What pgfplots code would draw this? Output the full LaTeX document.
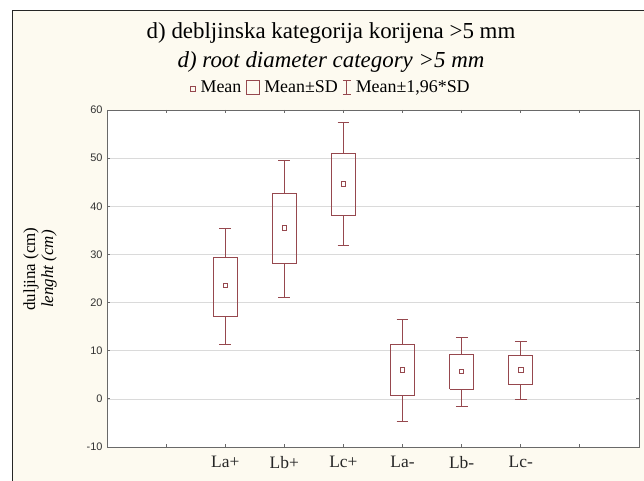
\documentclass[border=0pt]{standalone}
\usepackage{pgfplots}
\pgfplotsset{compat=1.18}
\usepackage{fontspec}
\setmainfont{Liberation Serif}
\newfontfamily\sansnum{Liberation Sans}
\definecolor{boxc}{RGB}{150,72,78}
\definecolor{bgc}{RGB}{253,250,240}
\definecolor{axc}{RGB}{105,105,105}
\definecolor{gridc}{RGB}{218,218,218}
\begin{document}
\begin{tikzpicture}
\useasboundingbox (0,0) rectangle (644bp,481bp);
\clip (0,0) rectangle (644bp,481bp);
\fill[white] (0,0) rectangle (644bp,481bp);
\draw[fill=bgc, draw=black!85, line width=1bp] (12bp,-10bp) rectangle (660bp,470bp);
\begin{axis}[
  at={(107bp,34bp)}, anchor=south west,
  scale only axis, width=532bp, height=337bp,
  xmin=0, xmax=9, ymin=-10, ymax=60,
  xtick={0,...,9},
  xticklabels={,,La+,Lb+,Lc+,La-,Lb-,Lc-,,},
  ytick={-10,0,...,60},
  tick align=inside, tick pos=both,
  major tick length=3bp,
  axis line style={axc, line width=0.8bp},
  tick style={axc, line width=0.8bp},
  ymajorgrids,
  grid style={gridc, line width=0.6bp},
  axis background/.style={fill=white},
  /pgf/number format/assume math mode=true,
  yticklabel style={font=\sansnum\fontsize{11}{12}\selectfont, text=black!80, xshift=-1bp},
  xticklabel style={font=\fontsize{17.5}{19}\selectfont, text=black!85, yshift=-6bp},
  unbounded coords=jump,
]
% whiskers (Mean +- 1.96 SD) with caps
\addplot[boxc, line width=1bp, mark=none] coordinates {
 (2,29.3) (2,35.4) (nan,nan) (1.9,35.4) (2.1,35.4) (nan,nan) (2,17.1) (2,11.2) (nan,nan) (1.9,11.2) (2.1,11.2) (nan,nan)
 (3,42.7) (3,49.6) (nan,nan) (2.9,49.6) (3.1,49.6) (nan,nan) (3,28.2) (3,21.1) (nan,nan) (2.9,21.1) (3.1,21.1) (nan,nan)
 (4,51.0) (4,57.4) (nan,nan) (3.9,57.4) (4.1,57.4) (nan,nan) (4,38.1) (4,31.8) (nan,nan) (3.9,31.8) (4.1,31.8) (nan,nan)
 (5,11.2) (5,16.4) (nan,nan) (4.9,16.4) (5.1,16.4) (nan,nan) (5,0.6) (5,-4.7) (nan,nan) (4.9,-4.7) (5.1,-4.7) (nan,nan)
 (6,9.3) (6,12.8) (nan,nan) (5.9,12.8) (6.1,12.8) (nan,nan) (6,2.0) (6,-1.6) (nan,nan) (5.9,-1.6) (6.1,-1.6) (nan,nan)
 (7,9.1) (7,12.0) (nan,nan) (6.9,12.0) (7.1,12.0) (nan,nan) (7,2.9) (7,-0.1) (nan,nan) (6.9,-0.1) (7.1,-0.1)
};
% boxes (Mean +- SD)
\addplot[draw=boxc, line width=1bp, mark=none] coordinates {
 (1.795,17.1) (2.205,17.1) (2.205,29.3) (1.795,29.3) (1.795,17.1) (nan,nan)
 (2.795,28.2) (3.205,28.2) (3.205,42.7) (2.795,42.7) (2.795,28.2) (nan,nan)
 (3.795,38.1) (4.205,38.1) (4.205,51.0) (3.795,51.0) (3.795,38.1) (nan,nan)
 (4.795,0.6) (5.205,0.6) (5.205,11.2) (4.795,11.2) (4.795,0.6) (nan,nan)
 (5.795,2.0) (6.205,2.0) (6.205,9.3) (5.795,9.3) (5.795,2.0) (nan,nan)
 (6.795,2.9) (7.205,2.9) (7.205,9.1) (6.795,9.1) (6.795,2.9)
};
% means
\addplot[boxc, only marks, mark=square, mark size=2.2bp, mark options={line width=0.9bp}] coordinates {(2,23.5) (3,35.5) (4,44.6) (5,6.0) (6,5.65) (7,6.0)};
\end{axis}
\node[anchor=base, font=\fontsize{23}{25}\selectfont] at (331bp,442bp) {d) debljinska kategorija korijena >5 mm};
\node[anchor=base, font=\fontsize{23}{25}\selectfont\itshape] at (331bp,413bp) {d) root diameter category >5 mm};
\node[anchor=base, font=\fontsize{18}{20}\selectfont] at (330bp,388bp) {%
\tikz[baseline=0pt]\draw[boxc, line width=0.8bp] (0,2bp) rectangle (5bp,7bp);\ Mean
\tikz[baseline=0pt]\draw[boxc, line width=0.9bp] (0,-1bp) rectangle (13bp,13bp); Mean±SD
\tikz[baseline=0pt]\draw[boxc, line width=0.9bp] (0,-1bp) -- (8bp,-1bp) (4bp,-1bp) -- (4bp,13bp) (0,13bp) -- (8bp,13bp); Mean±1,96*SD};
\node[rotate=90, font=\fontsize{17}{19}\selectfont] at (31bp,212bp) {duljina (cm)};
\node[rotate=90, font=\fontsize{17}{19}\selectfont\itshape] at (49bp,212bp) {lenght (cm)};
\end{tikzpicture}
\end{document}
